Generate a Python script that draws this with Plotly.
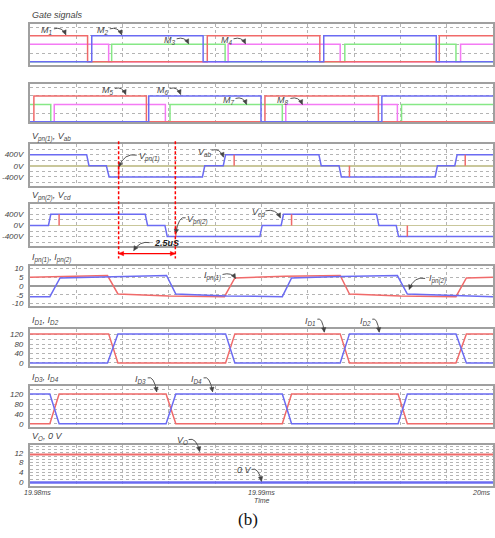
import math
import plotly.graph_objects as go

W, H = 495, 538
X0, X1 = 30, 494

# ---------------- data (time in microseconds after 19.98 ms) ----------------
x_grid = [0, 2, 4, 6, 8, 10, 12, 14, 16, 18, 20]
x_tick_vals = [0, 10, 20]
x_tick_text = ["19.98ms", "19.99ms", "20ms"]

# gate signals: start level, edge times, level after each edge
m1_start, m1_edges, m1_levels = 1, [2.49, 7.66, 12.52, 17.68], [0, 1, 0, 1]
m2_start, m2_edges, m2_levels = 0, [2.67, 7.48, 12.69, 17.55], [1, 0, 1, 0]
m3_start, m3_edges, m3_levels = 0, [3.53, 8.43, 13.6, 18.4], [0.67, 0, 0.67, 0]
m4_start, m4_edges, m4_levels = 0.67, [3.40, 8.56, 13.4, 18.6], [0, 0.67, 0, 0.67]

m5_start, m5_edges, m5_levels = 0, [0.17, 5.03, 10.15, 15.05], [1, 0, 1, 0]
m6_start, m6_edges, m6_levels = 0, [5.13, 9.98, 15.2], [1, 0, 1]
m7_start, m7_edges, m7_levels = 0.67, [0.9, 6.05, 10.9, 16.05], [0, 0.67, 0, 0.67]
m8_start, m8_edges, m8_levels = 0, [1.05, 5.85, 11.05, 15.87], [0.67, 0, 0.67, 0]

# Vab / Vcd (V)
vab_t = [0, 2.45, 2.55, 3.3, 3.42, 7.45, 7.55, 8.35, 8.45, 12.48, 12.58, 13.35, 13.45, 17.5, 17.6, 18.35, 18.45, 20]
vab_v = [400, 400, 0, 0, -400, -400, 0, 0, 400, 400, 0, 0, -400, -400, 0, 0, 400, 400]
vcd_t = [0, 0.8, 0.9, 4.98, 5.08, 5.83, 5.93, 9.93, 10.03, 10.85, 10.95, 14.97, 15.07, 15.82, 15.92, 20]
vcd_v = [0, 0, 400, 400, 0, 0, -400, -400, 0, 0, 400, 400, 0, 0, -400, -400]
# Vpn spikes (V)
vpn1_t = [3.83, 8.82, 13.8, 18.8]
vpn1_v = [-400, 400, -400, 400]
vpn2_t = [1.26, 6.3, 11.3, 16.3]
vpn2_v = [400, -400, 400, -400]

# Ipn currents (A)
ipn1_t = [0, 2.0, 3.35, 3.8, 6.0, 8.4, 8.85, 11.0, 13.4, 13.8, 16.0, 18.4, 18.85, 20]
ipn1_v = [5.0, 5.7, 6.0, -4.5, -5.6, -6.0, 4.6, 5.6, 6.0, -4.5, -5.6, -6.0, 4.6, 5.0]
ipn2_t = [0, 0.86, 1.3, 3.4, 5.9, 6.3, 8.5, 10.9, 11.3, 13.4, 15.87, 16.3, 18.5, 20]
ipn2_v = [-6.0, -6.0, 4.6, 5.4, 6.0, -4.5, -5.6, -6.0, 4.6, 5.5, 6.0, -4.5, -5.6, -6.0]

# diode currents (A)
id1_t = [0, 3.4, 3.8, 8.45, 8.85, 13.4, 13.8, 18.4, 18.85, 20]
id1_v = [123, 123, 0, 0, 123, 123, 0, 0, 123, 123]
id2_t = [0, 3.35, 3.8, 8.45, 8.85, 13.4, 13.8, 18.4, 18.85, 20]
id2_v = [0, 0, 123, 123, 0, 0, 123, 123, 0, 0]
id3_t = [0, 0.86, 1.26, 5.88, 6.3, 10.9, 11.3, 15.9, 16.3, 20]
id3_v = [0, 0, 122, 122, 0, 0, 122, 122, 0, 0]
id4_t = [0, 0.86, 1.26, 5.88, 6.3, 10.9, 11.3, 15.9, 16.3, 20]
id4_v = [122, 122, 0, 0, 122, 122, 0, 0, 122, 122]

# output voltage
vo_t = [0, 20]
vo_v = [11.3, 11.3]
zero_v = [0, 0]

# dead-time markers (us)
marker_t = [3.83, 6.28]
marker_label = "2.5uS"

# ---------------- styling ----------------
RED, BLUE, GREEN, MAG = "#f06a6a", "#6b6bf2", "#86e886", "#f47af4"
GRID, BORDER, TXT = "#b4b4b4", "#a0a0a0", "#444444"
FONT = "Liberation Sans"

panels = [
    dict(top=23, bot=64, rng=[-0.115, 1.46], tv=[0, 1/3, 2/3, 1, 4/3], tt=None, minor=None),
    dict(top=83, bot=122, rng=[-0.02, 1.48], tv=[0, 1/3, 2/3, 1, 4/3], tt=None, minor=None),
    dict(top=144, bot=186, rng=[-725, 775], tv=[400, 0, -400], tt=["400V", "0V", "-400V"], minor=200, zl="#c9c79b"),
    dict(top=204, bot=246, rng=[-725, 775], tv=[400, 0, -400], tt=["400V", "0V", "-400V"], minor=200, zl="#c9c79b"),
    dict(top=266, bot=307, rng=[-11.5, 11.7], tv=[10, 5, 0, -5, -10], tt=["10", "5", "0", "-5", "-10"], minor=None, zl="#9a9a9a"),
    dict(top=330, bot=367, rng=[-12.5, 143], tv=[0, 40, 80, 120], tt=["0", "40", "80", "120"], minor=20),
    dict(top=387, bot=428.5, rng=[-14, 156], tv=[0, 40, 80, 120], tt=["0", "40", "80", "120"], minor=20),
    dict(top=446, bot=487.5, rng=[-1.3, 15.3], tv=[0, 4, 8, 12], tt=["0", "4", "8", "12"], minor=4/3),
]

fig = go.Figure()
layout = {}
for i, p in enumerate(panels, start=1):
    sfx = "" if i == 1 else str(i)
    ya = dict(domain=[1 - p["bot"] / H, 1 - p["top"] / H], range=p["rng"], anchor="x" + sfx,
              showline=True, mirror=True, linecolor=BORDER, linewidth=2,
              showgrid=True, gridcolor=GRID, griddash="dot", gridwidth=1,
              tickvals=p["tv"], ticks="", fixedrange=True,
              zeroline=bool(p.get("zl")), zerolinecolor=p.get("zl", GRID), zerolinewidth=1.5)
    if p["tt"]:
        ya.update(ticktext=p["tt"], showticklabels=True, ticklabelstandoff=3,
                  tickfont=dict(family=FONT, size=8, color=TXT, style="italic"))
    else:
        ya.update(showticklabels=False)
    if p["minor"]:
        ya["minor"] = dict(dtick=p["minor"], tick0=0, showgrid=True, gridcolor=GRID, griddash="dot", gridwidth=1, ticks="")
    xa = dict(domain=[X0 / W, X1 / W], range=[0, 20], anchor="y" + sfx,
              showline=True, mirror=True, linecolor=BORDER, linewidth=2,
              showgrid=True, gridcolor=GRID, griddash="dot", gridwidth=1,
              tickvals=x_grid, showticklabels=False, ticks="", zeroline=False, fixedrange=True)
    layout["xaxis" + sfx] = xa
    layout["yaxis" + sfx] = ya


def axes(n):
    s = "" if n == 1 else str(n)
    return "x" + s, "y" + s


def add(x, y, color, n, width=1.5, shape="linear"):
    xr, yr = axes(n)
    fig.add_trace(go.Scatter(x=x, y=y, mode="lines", xaxis=xr, yaxis=yr,
                             line=dict(color=color, width=width, shape=shape),
                             hoverinfo="skip", showlegend=False))


def step(start, edges, levels):
    return [0] + edges + [20], [start] + levels + [levels[-1]]


def spikes(ts, vs):
    xs, ys = [], []
    for t, v in zip(ts, vs):
        xs += [t, t, None]
        ys += [0, v, None]
    return xs, ys


for (s, e, l), c in [((m3_start, m3_edges, m3_levels), GREEN), ((m4_start, m4_edges, m4_levels), MAG),
                     ((m1_start, m1_edges, m1_levels), RED), ((m2_start, m2_edges, m2_levels), BLUE)]:
    x, y = step(s, e, l)
    add(x, y, c, 1, shape="hv")
for (s, e, l), c in [((m7_start, m7_edges, m7_levels), GREEN), ((m8_start, m8_edges, m8_levels), MAG),
                     ((m5_start, m5_edges, m5_levels), RED), ((m6_start, m6_edges, m6_levels), BLUE)]:
    x, y = step(s, e, l)
    add(x, y, c, 2, shape="hv")

add(vab_t, vab_v, BLUE, 3)
sx, sy = spikes(vpn1_t, vpn1_v)
add(sx, sy, RED, 3)
add(vcd_t, vcd_v, BLUE, 4)
sx, sy = spikes(vpn2_t, vpn2_v)
add(sx, sy, RED, 4)

add(ipn1_t, ipn1_v, RED, 5)
add(ipn2_t, ipn2_v, BLUE, 5)
add(id1_t, id1_v, RED, 6)
add(id2_t, id2_v, BLUE, 6)
add(id3_t, id3_v, RED, 7)
add(id4_t, id4_v, BLUE, 7)
add(vo_t, vo_v, RED, 8, width=2)
add(vo_t, zero_v, BLUE, 8, width=2.5)

ann = []
shapes = []


def P(px, py):
    return px / W, 1 - py / H


def text(t, px, py, size=9, anchor="left", color=TXT, italic=True, family=FONT, bold=False):
    x, y = P(px, py)
    ann.append(dict(x=x, y=y, xref="paper", yref="paper", text=t, showarrow=False,
                    xanchor=anchor, yanchor="middle",
                    font=dict(family=family, size=size, color=color,
                              style="italic" if italic else "normal",
                              weight="bold" if bold else "normal")))


def head_tri(head, frm, color="#444", L=4.5, w=2.2):
    dx, dy = head[0] - frm[0], head[1] - frm[1]
    n = math.hypot(dx, dy) or 1
    ux, uy = dx / n, dy / n
    px_, py_ = -uy, ux
    pts = [head,
           (head[0] - ux * L + px_ * w, head[1] - uy * L + py_ * w),
           (head[0] - ux * L - px_ * w, head[1] - uy * L - py_ * w)]
    pp = [P(*q) for q in pts]
    path = "M " + " L ".join(f"{a},{b}" for a, b in pp) + " Z"
    shapes.append(dict(type="path", xref="paper", yref="paper", path=path,
                       fillcolor=color, line=dict(color=color, width=0.5)))


def label(t, px, py, tail, head):
    text(t, px, py, anchor="center")
    ctrl = (tail[0] + (head[0] - tail[0]) * 0.7, tail[1] - 2.5)
    tx, ty = P(*tail)
    cx, cy = P(*ctrl)
    hx, hy = P(*head)
    shapes.append(dict(type="path", xref="paper", yref="paper",
                       path=f"M {tx},{ty} Q {cx},{cy} {hx},{hy}",
                       line=dict(color="#555", width=1)))
    head_tri(head, ctrl)


# panel titles
text("Gate signals", 30, 14)
text("V<sub>pn(1)</sub>, V<sub>ab</sub>", 30, 137)
text("V<sub>pn(2)</sub>, V<sub>cd</sub>", 30, 196)
text("I<sub>pn(1)</sub>, I<sub>pn(2)</sub>", 30, 258)
text("I<sub>D1</sub>, I<sub>D2</sub>", 30, 321)
text("I<sub>D3</sub>, I<sub>D4</sub>", 30, 379)
text("V<sub>O</sub>, 0 V", 30, 438)

# trace labels
label("M<sub>1</sub>", 47, 30, (54, 28), (66, 34))
label("M<sub>2</sub>", 103, 30, (110, 28), (122, 34))
label("M<sub>3</sub>", 170, 40, (177, 38), (189, 43))
label("M<sub>4</sub>", 227, 40, (234, 38), (246, 43))
label("M<sub>5</sub>", 108, 90, (115, 88), (126, 94))
label("M<sub>6</sub>", 163, 90, (170, 88), (181, 94))
label("M<sub>7</sub>", 229, 100, (236, 98), (247, 104))
label("M<sub>8</sub>", 284, 100, (291, 98), (303, 104))
label("V<sub>pn(1)</sub>", 150, 157, (137, 155), (119, 167))
label("V<sub>ab</sub>", 205, 152, (212, 150), (224, 157))
label("V<sub>pn(2)</sub>", 198, 220, (186, 218), (176, 234))
label("V<sub>cd</sub>", 259, 213, (266, 211), (281, 218))
label("I<sub>pn(1)</sub>", 213, 277, (223, 275), (236, 279))
label("I<sub>pn(2)</sub>", 438, 280, (426, 279), (410, 290))
label("I<sub>D1</sub>", 311, 322, (318, 320), (325, 333))
label("I<sub>D2</sub>", 366, 322, (373, 320), (380, 333))
label("I<sub>D3</sub>", 141, 381, (148, 379), (157, 393))
label("I<sub>D4</sub>", 197, 381, (204, 379), (213, 393))
label("V<sub>O</sub>", 183, 442, (189, 441), (200, 453))
label("0 V", 245, 472, (252, 471), (262, 483))


# dead-time markers
def tpx(t):
    return X0 + t * (X1 - X0) / 20


for t in marker_t:
    shapes.append(dict(type="line", xref="x3", yref="paper", x0=t, x1=t,
                       y0=1 - 141 / H, y1=1 - 259 / H,
                       line=dict(color="#ff0000", width=1.5, dash="3px,2px")))
a, b = tpx(marker_t[0]), tpx(marker_t[1])
ya_ = 254
shapes.append(dict(type="line", xref="paper", yref="paper", x0=a / W, x1=b / W,
                   y0=1 - ya_ / H, y1=1 - ya_ / H, line=dict(color="#ff0000", width=1.2)))
head_tri((a, ya_), (b, ya_), color="#ff0000", L=5, w=2.2)
head_tri((b, ya_), (a, ya_), color="#ff0000", L=5, w=2.2)
text(marker_label, 152, 243, size=9, anchor="left", color="#222", bold=True)
lt, lc, lh = (150, 243), (140, 241), (134, 251)
shapes.append(dict(type="path", xref="paper", yref="paper",
                   path="M {},{} Q {},{} {},{}".format(*P(*lt), *P(*lc), *P(*lh)),
                   line=dict(color="#555", width=1)))
head_tri(lh, lc)

# time axis labels
for v, t in zip(x_tick_vals, x_tick_text):
    anc = "left" if v == x_tick_vals[0] else ("right" if v == x_tick_vals[-1] else "center")
    off = -8 if anc == "left" else 0
    ann.append(dict(x=v, y=1 - 494 / H, xref="x8", yref="paper", text=t, showarrow=False,
                    xanchor=anc, yanchor="middle", xshift=off,
                    font=dict(family=FONT, size=7, color=TXT, style="italic")))
text("Time", 263, 502, size=7, anchor="center")
text("(b)", 249, 521, size=17, anchor="center", color="#111", italic=False, family="Liberation Serif")

fig.update_layout(**layout)
fig.update_layout(width=W, height=H, margin=dict(l=0, r=0, t=0, b=0),
                  paper_bgcolor="white", plot_bgcolor="white", showlegend=False,
                  annotations=ann, shapes=shapes)
fig.write_html("out.html", config={"displayModeBar": False, "staticPlot": True},
               post_script="document.body.style.margin='0';document.body.style.padding='0';"
                           "document.documentElement.style.overflow='hidden';")
